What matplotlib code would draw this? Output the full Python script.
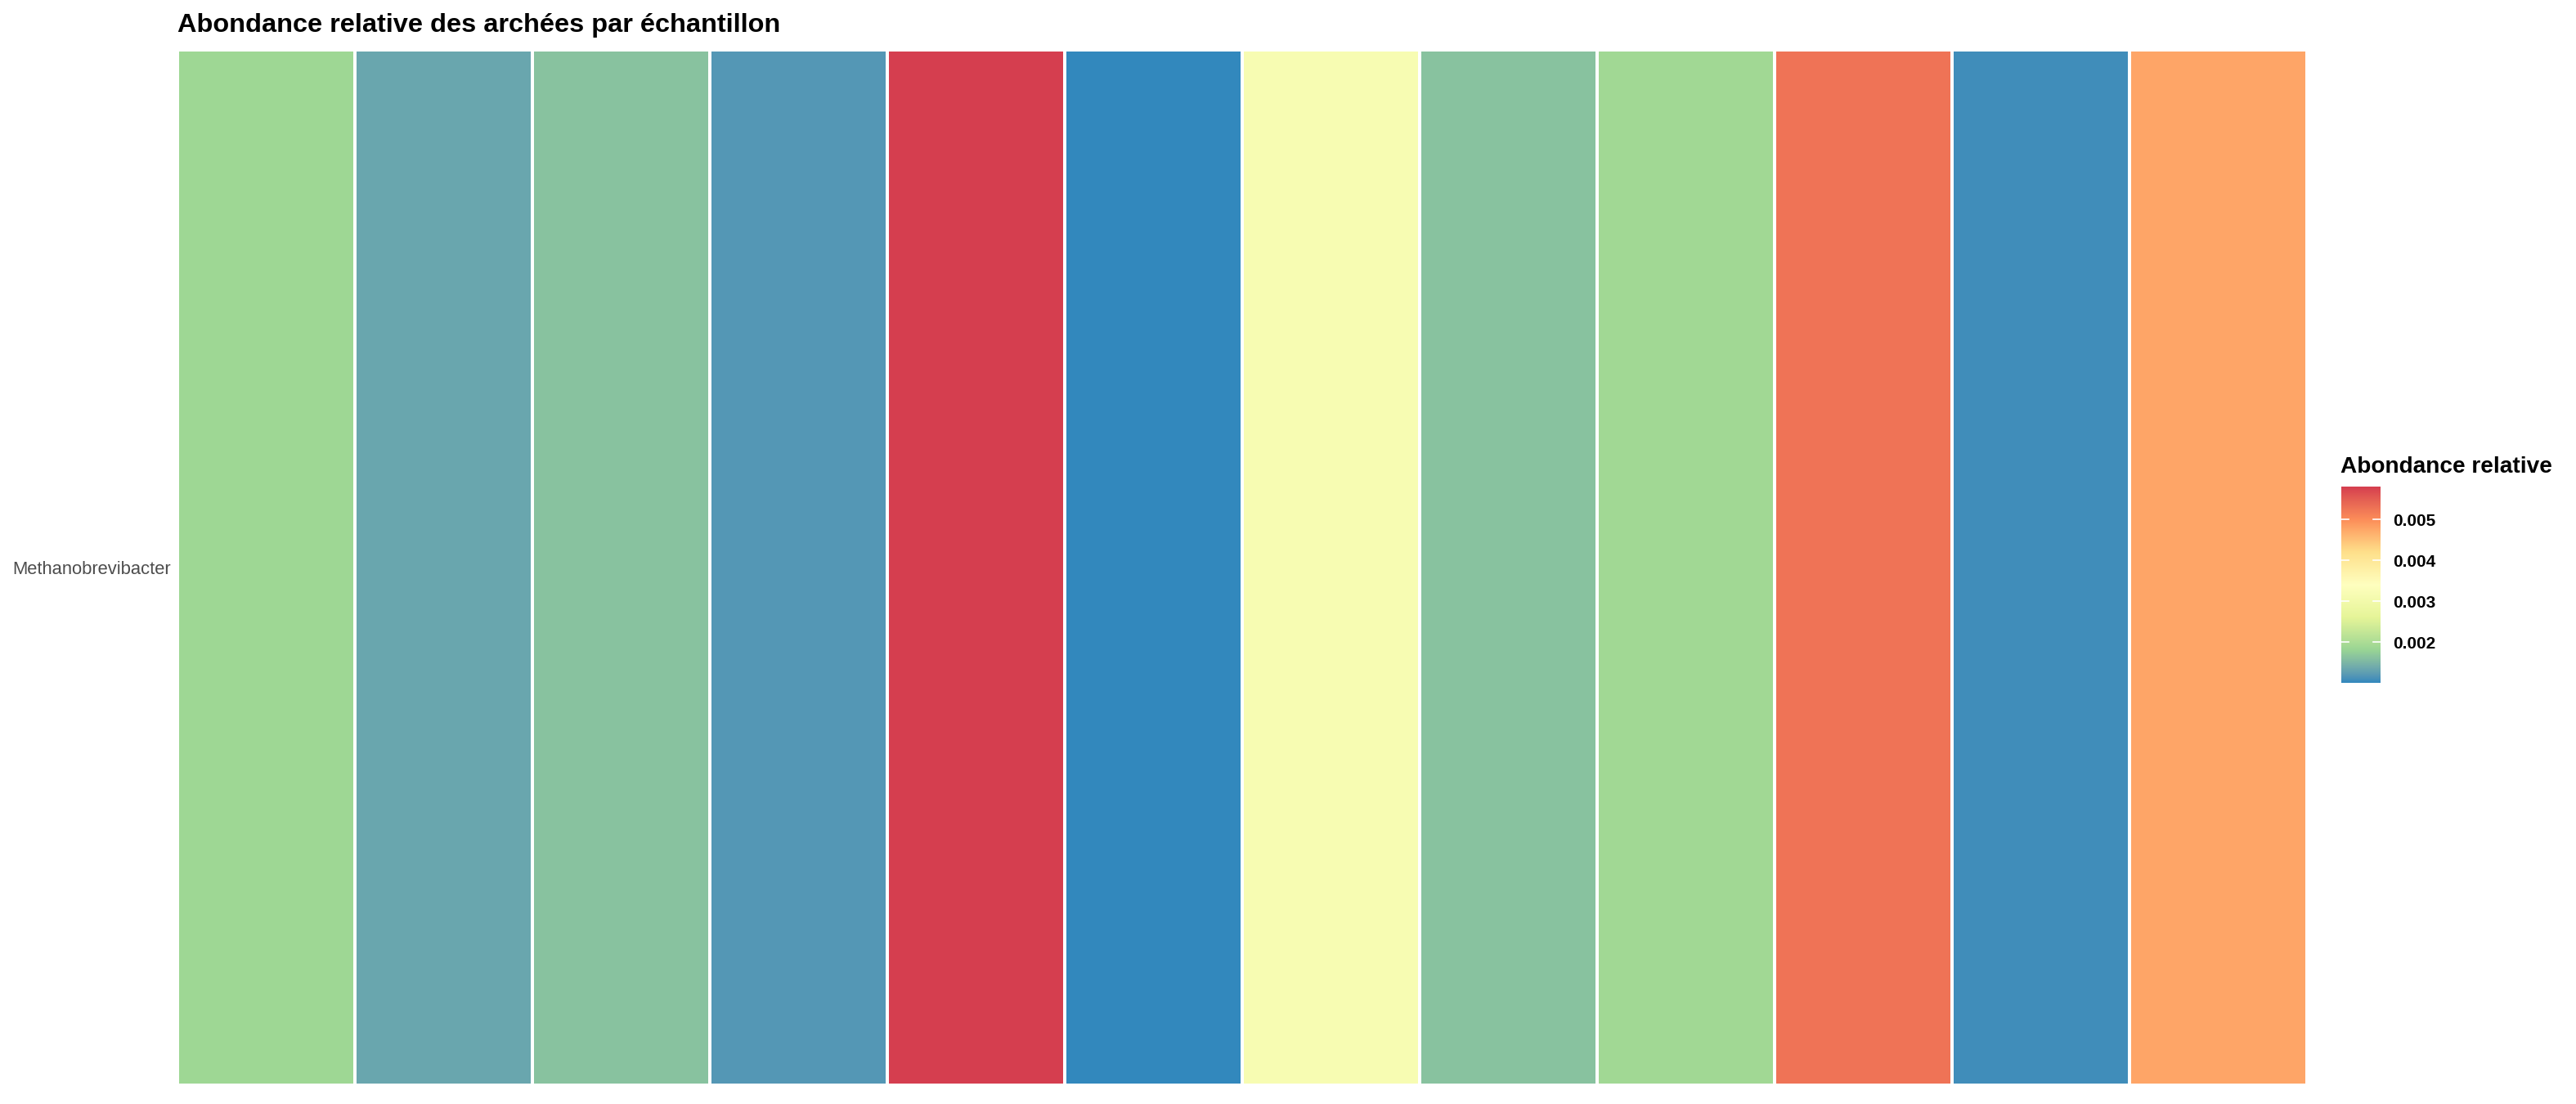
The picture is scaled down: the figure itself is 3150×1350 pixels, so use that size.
import numpy as np
import matplotlib
matplotlib.use("Agg")
import matplotlib.pyplot as plt
from matplotlib.colors import ListedColormap, Normalize, to_rgb

# ---- data ----
genus = ["Methanobrevibacter"]
samples = ["S01", "S02", "S03", "S04", "S05", "S06",
           "S07", "S08", "S09", "S10", "S11", "S12"]
abundance = [0.00185, 0.00132, 0.00162, 0.00117, 0.00581, 0.00100,
             0.00314, 0.00162, 0.00189, 0.00529, 0.00106, 0.00478]
cbar_ticks = [0.002, 0.003, 0.004, 0.005]
vmin, vmax = 0.00100, 0.00581

spectral7 = ["#3288BD", "#99D594", "#E6F598", "#FFFFBF",
             "#FEE08B", "#FC8D59", "#D53E4F"]


# Lab interpolation (as ggplot's gradient_n_pal)
def srgb_to_lab(rgb):
    rgb = np.asarray(rgb, float)
    lin = np.where(rgb <= 0.04045, rgb / 12.92, ((rgb + 0.055) / 1.055) ** 2.4)
    M = np.array([[0.4124, 0.3576, 0.1805],
                  [0.2126, 0.7152, 0.0722],
                  [0.0193, 0.1192, 0.9505]])
    xyz = lin @ M.T
    xyz = xyz / np.array([0.95047, 1.0, 1.08883])
    f = np.where(xyz > 0.008856, np.cbrt(xyz), 7.787 * xyz + 16 / 116)
    L = 116 * f[..., 1] - 16
    a = 500 * (f[..., 0] - f[..., 1])
    b = 200 * (f[..., 1] - f[..., 2])
    return np.stack([L, a, b], -1)


def lab_to_srgb(lab):
    L, a, b = lab[..., 0], lab[..., 1], lab[..., 2]
    fy = (L + 16) / 116
    fx = fy + a / 500
    fz = fy - b / 200
    f = np.stack([fx, fy, fz], -1)
    xyz = np.where(f ** 3 > 0.008856, f ** 3, (f - 16 / 116) / 7.787)
    xyz = xyz * np.array([0.95047, 1.0, 1.08883])
    Minv = np.linalg.inv(np.array([[0.4124, 0.3576, 0.1805],
                                   [0.2126, 0.7152, 0.0722],
                                   [0.0193, 0.1192, 0.9505]]))
    lin = xyz @ Minv.T
    lin = np.clip(lin, 0, 1)
    rgb = np.where(lin <= 0.0031308, 12.92 * lin, 1.055 * lin ** (1 / 2.4) - 0.055)
    return np.clip(rgb, 0, 1)


labs = srgb_to_lab([to_rgb(c) for c in spectral7])
pos = np.linspace(0, 1, len(spectral7))
t = np.linspace(0, 1, 512)
lab_i = np.stack([np.interp(t, pos, labs[:, k]) for k in range(3)], -1)
cmap = ListedColormap(lab_to_srgb(lab_i))
norm = Normalize(vmin=vmin, vmax=vmax)

plt.rcParams['font.family'] = ['Liberation Sans', 'DejaVu Sans']

W, H = 3150, 1350
fig = plt.figure(figsize=(W / 100, H / 100), dpi=100)
ax = fig.add_axes([217 / W, 1 - 1327 / H, (2821 - 217) / W, (1327 - 61) / H])

Z = np.array([abundance])
ax.pcolormesh(np.arange(len(samples) + 1), np.arange(len(genus) + 1), Z,
              cmap=cmap, norm=norm, edgecolors="white", linewidth=2.6)
ax.set_xlim(0, len(samples))
ax.set_ylim(0, len(genus))
ax.set_xticks([])
ax.set_yticks([0.5])
ax.set_yticklabels(genus, fontsize=15.8, color="#4D4D4D")
ax.tick_params(axis="y", length=0, pad=6)
for s in ax.spines.values():
    s.set_visible(False)

fig.text(217 / W, 1 - 39 / H, "Abondance relative des archées par échantillon",
         fontsize=23.4, fontweight="bold", ha="left", va="baseline")

# colorbar
cax = fig.add_axes([2863 / W, 1 - 835 / H, 48 / W, 240 / H])
grad = np.linspace(vmin, vmax, 256).reshape(-1, 1)
cax.imshow(grad, aspect="auto", origin="lower", cmap=cmap, norm=norm,
           extent=[0, 1, vmin, vmax])
cax.set_xlim(0, 1)
cax.set_ylim(vmin, vmax)
cax.set_xticks([])
for tk in cbar_ticks:
    cax.plot([0, 0.19], [tk, tk], color="white", lw=1.2)
    cax.plot([0.81, 1], [tk, tk], color="white", lw=1.2)
cax.yaxis.tick_right()
cax.set_yticks(cbar_ticks)
cax.set_yticklabels([f"{tk:.3f}" for tk in cbar_ticks], fontsize=15,
                    fontweight="bold", color="black")
cax.tick_params(axis="y", length=0, pad=11)
for s in cax.spines.values():
    s.set_visible(False)

fig.text(2862 / W, 1 - 578 / H, "Abondance relative", fontsize=20.2,
         fontweight="bold", ha="left", va="baseline")

fig.savefig("out.png", dpi=100, facecolor="white")
